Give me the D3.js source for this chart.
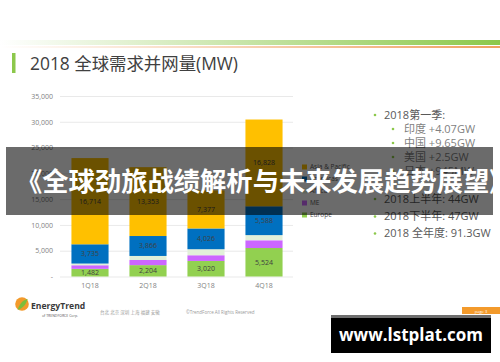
<!DOCTYPE html>
<html>
<head>
<meta charset="utf-8">
<script src="https://cdn.jsdelivr.net/npm/d3@7"></script>
<style>
  html, body { margin: 0; padding: 0; background: #fff; }
  svg { display: block; font-family: "Open Sans", "Noto Sans CJK SC", sans-serif; }
</style>
</head>
<body>
<script>
// chart data
let quarters = ['1Q18', '2Q18', '3Q18', '4Q18'];
let regions = ['Europe', 'ME', 'Africa', 'Americas', 'Asia & Pacific'];
let europe = [1482, 2204, 3020, 5524];
let me = [700, 1000, 1100, 1500];
let africa = [330, 780, 1170, 1000];
let americas = [3735, 3866, 4026, 5588];
let asia = [16714, 13353, 7377, 16828];
let labelled = ['Europe', 'Americas', 'Asia & Pacific'];
let yTicks = [0, 5000, 10000, 15000, 20000, 25000, 30000, 35000];
let notes = [
  {txt: '2018第一季:', lvl: 0},
  {txt: '印度 +4.07GW', lvl: 1},
  {txt: '中国 +9.65GW', lvl: 1},
  {txt: '美国 +2.5GW', lvl: 1},
  {txt: '日本 +945MW', lvl: 1},
  {txt: '2018上半年: 44GW', lvl: 0},
  {txt: '2018下半年: 47GW', lvl: 0},
  {txt: '2018 全年度: 91.3GW', lvl: 0}
];
let noteY = [115, 129, 143, 157, 171, 199, 216.5, 233.5];

let colors = {
  'Europe': '#92D050',
  'ME': '#CC66FF',
  'Africa': '#E2F0D9',
  'Americas': '#0070C0',
  'Asia & Pacific': '#FFC000'
};

let width = 500, height = 362;
let svg = d3.select('body').append('svg')
  .attr('width', width).attr('height', height);

svg.append('rect').attr('width', width).attr('height', height).attr('fill', '#fff');

// header gradient lines
let defs = svg.append('defs');
let g1 = defs.append('linearGradient').attr('id', 'gGreen');
g1.append('stop').attr('offset', '0%').attr('stop-color', '#fff');
g1.append('stop').attr('offset', '100%').attr('stop-color', '#8CC84B');
let g2 = defs.append('linearGradient').attr('id', 'gOrange');
g2.append('stop').attr('offset', '0%').attr('stop-color', '#fff');
g2.append('stop').attr('offset', '100%').attr('stop-color', '#F0A060');
svg.append('rect').attr('x', 0).attr('y', 40).attr('width', width).attr('height', 5).attr('fill', 'url(#gGreen)');
svg.append('rect').attr('x', 0).attr('y', 46).attr('width', width).attr('height', 2).attr('fill', 'url(#gOrange)');

// title
svg.append('rect').attr('x', 12).attr('y', 53).attr('width', 3.5).attr('height', 20).attr('fill', '#8CC84B');
svg.append('text').attr('x', 30).attr('y', 69.5)
  .attr('font-size', 17.4).attr('fill', '#404040')
  .text('2018 全球需求并网量(MW)');

// scales
let table = quarters.map((q, i) => ({
  q: q, 'Europe': europe[i], 'ME': me[i], 'Africa': africa[i],
  'Americas': americas[i], 'Asia & Pacific': asia[i]
}));
let series = d3.stack().keys(regions)(table);

let xScale = d3.scaleBand().domain(quarters).range([61, 293]).paddingInner(0.36).paddingOuter(0.18);
let yScale = d3.scaleLinear().domain([0, 35000]).range([276.5, 96]);

// grid + y labels
let yAxis = d3.axisLeft(yScale).tickValues(yTicks)
  .tickSize(-(293 - 60))
  .tickFormat(d => d === 0 ? '-' : d3.format(',')(d));
let gy = svg.append('g').attr('transform', 'translate(60,0)').call(yAxis);
gy.select('.domain').remove();
gy.selectAll('line').attr('stroke', '#E3E3E3').attr('stroke-width', 0.8);
gy.selectAll('text').attr('x', -7).attr('font-size', 7).attr('fill', '#7F7F7F')
  .style('font-family', '"Open Sans", sans-serif');

// x labels
let xAxis = d3.axisBottom(xScale).tickSize(0);
let gx = svg.append('g').attr('transform', 'translate(0,280)').call(xAxis);
gx.select('.domain').remove();
gx.selectAll('text').attr('font-size', 7).attr('fill', '#7F7F7F')
  .style('font-family', '"Open Sans", sans-serif');

// bars
let layers = svg.append('g').selectAll('g').data(series).enter().append('g')
  .attr('fill', d => colors[d.key]);
layers.selectAll('rect').data(d => d).enter().append('rect')
  .attr('x', d => xScale(d.data.q))
  .attr('y', d => yScale(d[1]))
  .attr('width', xScale.bandwidth())
  .attr('height', d => yScale(d[0]) - yScale(d[1]));

series.filter(s => labelled.includes(s.key)).forEach(s => {
  svg.append('g').selectAll('text').data(s).enter().append('text')
    .attr('x', d => xScale(d.data.q) + xScale.bandwidth() / 2)
    .attr('y', d => (yScale(d[0]) + yScale(d[1])) / 2)
    .attr('dy', '0.35em')
    .attr('text-anchor', 'middle')
    .attr('font-size', 7).attr('fill', '#404040')
    .text(d => d3.format(',')(d[1] - d[0]));
});

// legend
let legend = svg.append('g').selectAll('g').data(regions.slice().reverse()).enter().append('g')
  .attr('transform', (d, i) => `translate(302,${167 + i * 12})`);
legend.append('rect').attr('y', -2.5).attr('width', 5).attr('height', 5).attr('fill', d => colors[d]);
legend.append('text').attr('x', 8).attr('dy', '0.35em')
  .attr('font-size', 6.5).attr('fill', '#595959').text(d => d);

// notes on the right
let ng = svg.append('g').selectAll('g').data(notes).enter().append('g')
  .attr('transform', (d, i) => `translate(${d.lvl ? 393 : 375},${noteY[i]})`);
ng.append('circle').attr('r', 1.3).attr('fill', '#8CC84B');
ng.append('text').attr('x', d => d.lvl ? 11 : 9).attr('dy', '0.35em')
  .attr('font-size', 11).attr('fill', d => d.lvl ? '#7F7F7F' : '#595959')
  .text(d => d.txt);

// footer logo
let logo = svg.append('g').attr('transform', 'translate(15,297)');
logo.append('circle').attr('cx', 7).attr('cy', 7).attr('r', 6.8).attr('fill', '#F39A2B');
logo.append('path').attr('d', 'M2.5,13 C5,6 8,3 12.5,2 C11.5,7 8,11 2.5,13 Z').attr('fill', '#7DBE3C');
logo.append('text').attr('x', 16).attr('y', 11.5).attr('font-size', 8.6).attr('font-weight', 'bold')
  .attr('fill', '#3A3A3A').text('EnergyTrend');
logo.append('text').attr('x', 27).attr('y', 19.5).attr('font-size', 3.5)
  .attr('fill', '#555').text('of TRENDFORCE Corp.');
svg.append('text').attr('x', 100).attr('y', 314).attr('font-size', 4.5).attr('fill', '#9A9A9A')
  .text('台北 北京 深圳 上海 福建 安徽');
svg.append('text').attr('x', 186).attr('y', 314).attr('font-size', 4.5).attr('fill', '#9A9A9A')
  .text('©TrendForce All Rights Reserved');

// page tab
svg.append('rect').attr('x', 462).attr('y', 307).attr('width', 38).attr('height', 7).attr('fill', '#F39A2B');
svg.append('text').attr('x', 481).attr('y', 312.5).attr('text-anchor', 'middle')
  .attr('font-size', 4).attr('fill', '#fff').text('page 3');

// overlay banner
defs.append('clipPath').attr('id', 'bannerClip')
  .append('rect').attr('x', 6).attr('y', 147).attr('width', 487).attr('height', 68);
svg.append('rect').attr('x', 6).attr('y', 147).attr('width', 487).attr('height', 68)
  .attr('fill', 'rgba(0,0,0,0.58)');
svg.append('text').attr('clip-path', 'url(#bannerClip)')
  .attr('x', 16).attr('y', 182).attr('dy', '0.35em')
  .attr('font-size', 26.3).attr('font-weight', 'bold').attr('fill', '#fff')
  .style('font-family', '"Noto Sans CJK SC", sans-serif')
  .text('《全球劲旅战绩解析与未来发展趋势展望》');

// watermark
svg.append('rect').attr('x', 331).attr('y', 315).attr('width', 160).attr('height', 3).attr('fill', '#6E6E6E');
svg.append('rect').attr('x', 331).attr('y', 318).attr('width', 160).attr('height', 35).attr('fill', '#000');
svg.append('text').attr('x', 411).attr('y', 335.5).attr('dy', '0.35em').attr('text-anchor', 'middle')
  .attr('font-size', 17).attr('font-weight', 'bold').attr('fill', '#fff')
  .style('font-family', '"Open Sans", sans-serif')
  .text('www.lstplat.com');
</script>
</body>
</html>
